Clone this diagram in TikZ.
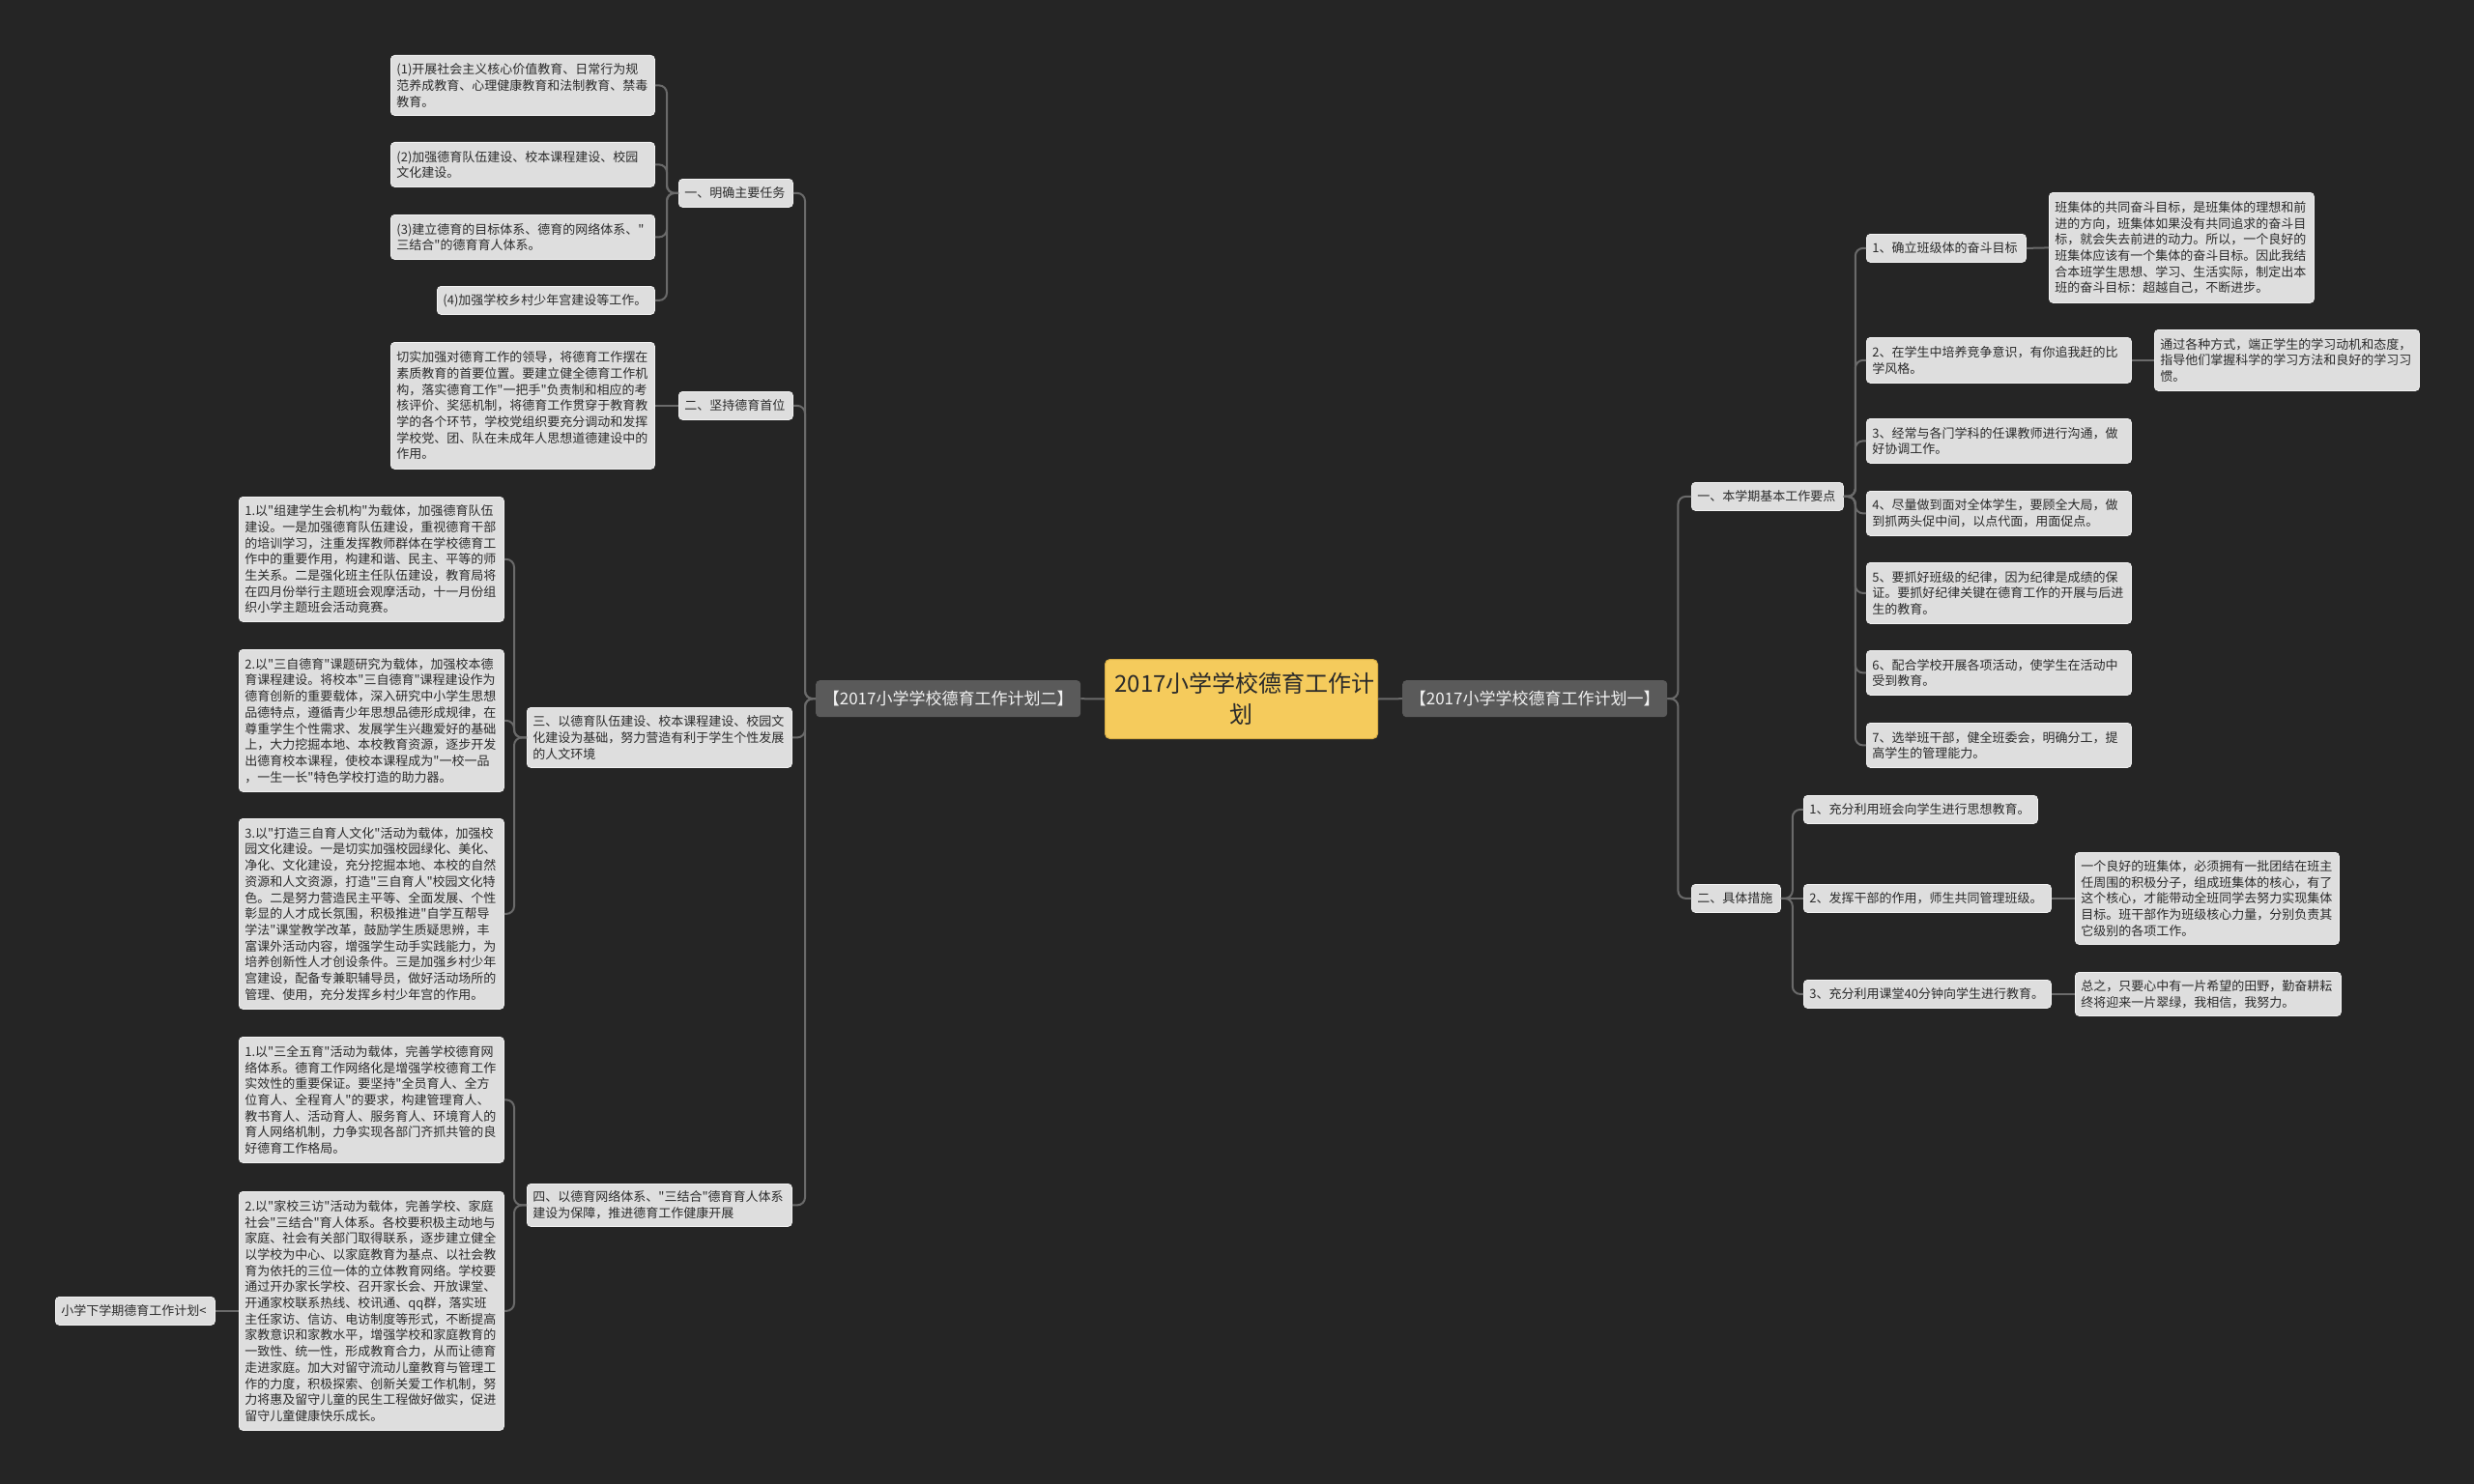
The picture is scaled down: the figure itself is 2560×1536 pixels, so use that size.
\documentclass[tikz,border=0pt]{standalone}
\usepackage{fontspec}
\setmainfont{Noto Sans CJK SC}
\newfontfamily\mmfont{Noto Sans CJK SC}
\definecolor{bg}{HTML}{252525}
\definecolor{leaffill}{HTML}{DEDEDE}
\definecolor{leafedge}{HTML}{F2F2F2}
\definecolor{txt}{HTML}{2B2B2B}
\definecolor{lonefill}{HTML}{5A5A5A}
\definecolor{lonetext}{HTML}{F2F2F2}
\definecolor{rootfill}{HTML}{F5CB5C}
\definecolor{rootedge}{HTML}{D9AE45}
\definecolor{roottext}{HTML}{2A2A2A}
\definecolor{conncol}{HTML}{6A6A6A}
\tikzset{
  leaf/.style={rounded corners=4pt, fill=leaffill, draw=leafedge, line width=0.8pt, inner xsep=6pt, inner ysep=0pt, align=left, anchor=north west, text=txt, font=\mmfont\fontsize{13pt}{16.7pt}\selectfont},
  lone/.style={rounded corners=4pt, fill=lonefill, draw=none, inner xsep=6pt, inner ysep=0pt, align=center, anchor=north west, text=lonetext, font=\mmfont\fontsize{17pt}{20pt}\selectfont},
  rootbox/.style={rounded corners=5pt, fill=rootfill, draw=rootedge, line width=1pt, inner xsep=10pt, inner ysep=0pt, align=center, anchor=north west, text=roottext, font=\mmfont\fontsize{24pt}{32pt}\selectfont},
  conn/.style={draw=conncol, line width=2pt, rounded corners=8pt},
}
\newcommand\mmnode[7]{\node[#1, text width=#5pt, minimum height=#6pt] (#2) at (#3,#4) {#7};}
\begin{document}
\begin{tikzpicture}[x=1pt,y=-1pt]
\fill[bg] (0,0) rectangle (2560,1536);
\useasboundingbox (0,0) rectangle (2560,1536);

% centre
\mmnode{rootbox}{root}{1143}{682}{262}{82}{2017小学学校德育工作计\\划}
\mmnode{lone}{LT}{844}{704}{262}{38}{【2017小学学校德育工作计划二】}
\mmnode{lone}{RT}{1451}{704}{262}{38}{【2017小学学校德育工作计划一】}

% left side
\mmnode{leaf}{A1}{702}{185}{106}{29}{一、明确主要任务}
\mmnode{leaf}{L1a}{404}{57}{261}{62}{(1)开展社会主义核心价值教育、日常行为规\\范养成教育、心理健康教育和法制教育、禁毒\\教育。}
\mmnode{leaf}{L1b}{404}{147}{261}{46}{(2)加强德育队伍建设、校本课程建设、校园\\文化建设。}
\mmnode{leaf}{L1c}{404}{222}{261}{46}{(3)建立德育的目标体系、德育的网络体系、"\\三结合"的德育育人体系。}
\mmnode{leaf}{L1d}{452}{296}{213}{29}{(4)加强学校乡村少年宫建设等工作。}

\mmnode{leaf}{A2}{702}{405}{106}{29}{二、坚持德育首位}
\mmnode{leaf}{L2}{404}{354}{261}{131}{切实加强对德育工作的领导，将德育工作摆在\\素质教育的首要位置。要建立健全德育工作机\\构，落实德育工作"一把手"负责制和相应的考\\核评价、奖惩机制，将德育工作贯穿于教育教\\学的各个环节，学校党组织要充分调动和发挥\\学校党、团、队在未成年人思想道德建设中的\\作用。}

\mmnode{leaf}{A3}{545}{732}{262}{62}{三、以德育队伍建设、校本课程建设、校园文\\化建设为基础，努力营造有利于学生个性发展\\的人文环境}
\mmnode{leaf}{L3a}{247}{514}{262}{129}{1.以"组建学生会机构"为载体，加强德育队伍\\建设。一是加强德育队伍建设，重视德育干部\\的培训学习，注重发挥教师群体在学校德育工\\作中的重要作用，构建和谐、民主、平等的师\\生关系。二是强化班主任队伍建设，教育局将\\在四月份举行主题班会观摩活动，十一月份组\\织小学主题班会活动竟赛。}
\mmnode{leaf}{L3b}{247}{672}{262}{147}{2.以"三自德育"课题研究为载体，加强校本德\\育课程建设。将校本"三自德育"课程建设作为\\德育创新的重要载体，深入研究中小学生思想\\品德特点，遵循青少年思想品德形成规律，在\\尊重学生个性需求、发展学生兴趣爱好的基础\\上，大力挖掘本地、本校教育资源，逐步开发\\出德育校本课程，使校本课程成为"一校一品\\，一生一长"特色学校打造的助力器。}
\mmnode{leaf}{L3c}{247}{847}{262}{197}{3.以"打造三自育人文化"活动为载体，加强校\\园文化建设。一是切实加强校园绿化、美化、\\净化、文化建设，充分挖掘本地、本校的自然\\资源和人文资源，打造"三自育人"校园文化特\\色。二是努力营造民主平等、全面发展、个性\\彰显的人才成长氛围，积极推进"自学互帮导\\学法"课堂教学改革，鼓励学生质疑思辨，丰\\富课外活动内容，增强学生动手实践能力，为\\培养创新性人才创设条件。三是加强乡村少年\\宫建设，配备专兼职辅导员，做好活动场所的\\管理、使用，充分发挥乡村少年宫的作用。}

\mmnode{leaf}{A4}{545}{1225}{262}{44}{四、以德育网络体系、"三结合"德育育人体系\\建设为保障，推进德育工作健康开展}
\mmnode{leaf}{L4a}{247}{1073}{262}{130}{1.以"三全五育"活动为载体，完善学校德育网\\络体系。德育工作网络化是增强学校德育工作\\实效性的重要保证。要坚持"全员育人、全方\\位育人、全程育人"的要求，构建管理育人、\\教书育人、活动育人、服务育人、环境育人的\\育人网络机制，力争实现各部门齐抓共管的良\\好德育工作格局。}
\mmnode{leaf}{L4b}{247}{1233}{262}{247}{2.以"家校三访"活动为载体，完善学校、家庭\\社会"三结合"育人体系。各校要积极主动地与\\家庭、社会有关部门取得联系，逐步建立健全\\以学校为中心、以家庭教育为基点、以社会教\\育为依托的三位一体的立体教育网络。学校要\\通过开办家长学校、召开家长会、开放课堂、\\开通家校联系热线、校讯通、qq群，落实班\\主任家访、信访、电访制度等形式，不断提高\\家教意识和家教水平，增强学校和家庭教育的\\一致性、统一性，形成教育合力，从而让德育\\走进家庭。加大对留守流动儿童教育与管理工\\作的力度，积极探索、创新关爱工作机制，努\\力将惠及留守儿童的民生工程做好做实，促进\\留守儿童健康快乐成长。}
\mmnode{leaf}{X}{57}{1342}{153}{29}{小学下学期德育工作计划<}

% right side
\mmnode{leaf}{R1}{1750}{499}{145}{29}{一、本学期基本工作要点}
\mmnode{leaf}{R1a}{1931}{242}{153}{29}{1、确立班级体的奋斗目标}
\mmnode{leaf}{R1aL}{2120}{199}{262}{114}{班集体的共同奋斗目标，是班集体的理想和前\\进的方向，班集体如果没有共同追求的奋斗目\\标，就会失去前进的动力。所以，一个良好的\\班集体应该有一个集体的奋斗目标。因此我结\\合本班学生思想、学习、生活实际，制定出本\\班的奋斗目标：超越自己，不断进步。}
\mmnode{leaf}{R1b}{1931}{349}{262}{47}{2、在学生中培养竞争意识，有你追我赶的比\\学风格。}
\mmnode{leaf}{R1bL}{2229}{341}{262}{63}{通过各种方式，端正学生的学习动机和态度，\\指导他们掌握科学的学习方法和良好的学习习\\惯。}
\mmnode{leaf}{R1c}{1931}{433}{262}{46}{3、经常与各门学科的任课教师进行沟通，做\\好协调工作。}
\mmnode{leaf}{R1d}{1931}{508}{262}{46}{4、尽量做到面对全体学生，要顾全大局，做\\到抓两头促中间，以点代面，用面促点。}
\mmnode{leaf}{R1e}{1931}{582}{262}{63}{5、要抓好班级的纪律，因为纪律是成绩的保\\证。要抓好纪律关键在德育工作的开展与后进\\生的教育。}
\mmnode{leaf}{R1f}{1931}{673}{262}{46}{6、配合学校开展各项活动，使学生在活动中\\受到教育。}
\mmnode{leaf}{R1g}{1931}{748}{262}{46}{7、选举班干部，健全班委会，明确分工，提\\高学生的管理能力。}

\mmnode{leaf}{R2}{1750}{915}{80}{29}{二、具体措施}
\mmnode{leaf}{R2a}{1866}{823}{230}{29}{1、充分利用班会向学生进行思想教育。}
\mmnode{leaf}{R2b}{1866}{915}{244}{29}{2、发挥干部的作用，师生共同管理班级。}
\mmnode{leaf}{R2bL}{2147}{882}{261}{95}{一个良好的班集体，必须拥有一批团结在班主\\任周围的积极分子，组成班集体的核心，有了\\这个核心，才能带动全班同学去努力实现集体\\目标。班干部作为班级核心力量，分别负责其\\它级别的各项工作。}
\mmnode{leaf}{R2c}{1866}{1014}{244}{29}{3、充分利用课堂40分钟向学生进行教育。}
\mmnode{leaf}{R2cL}{2147}{1006}{263}{45}{总之，只要心中有一片希望的田野，勤奋耕耘\\终将迎来一片翠绿，我相信，我努力。}

% connectors
\draw[conn] (root.west) -- (LT.east);
\draw[conn] (root.east) -- (RT.west);
\foreach \c in {A1,A2,A3,A4} \draw[conn] (LT.west) -- ++(-11,0) |- (\c.east);
\foreach \c in {L1a,L1b,L1c,L1d} \draw[conn] (A1.west) -- ++(-12,0) |- (\c.east);
\draw[conn] (A2.west) -- (L2.east);
\foreach \c in {L3a,L3b,L3c} \draw[conn] (A3.west) -- ++(-13,0) |- (\c.east);
\foreach \c in {L4a,L4b} \draw[conn] (A4.west) -- ++(-13,0) |- (\c.east);
\draw[conn] (L4b.west) -- (X.east);
\foreach \c in {R1,R2} \draw[conn] (RT.east) -- ++(11,0) |- (\c.west);
\foreach \c in {R1a,R1b,R1c,R1d,R1e,R1f,R1g} \draw[conn] (R1.east) -- ++(12,0) |- (\c.west);
\draw[conn] (R1a.east) -- (R1aL.west);
\draw[conn] (R1b.east) -- (R1bL.west);
\draw[conn] (R2.east) -- ++(12,0) |- (R2a.west);
\draw[conn] (R2.east) -- (R2b.west);
\draw[conn] (R2.east) -- ++(12,0) |- (R2c.west);
\draw[conn] (R2b.east) -- (R2bL.west);
\draw[conn] (R2c.east) -- (R2cL.west);
\end{tikzpicture}
\end{document}
